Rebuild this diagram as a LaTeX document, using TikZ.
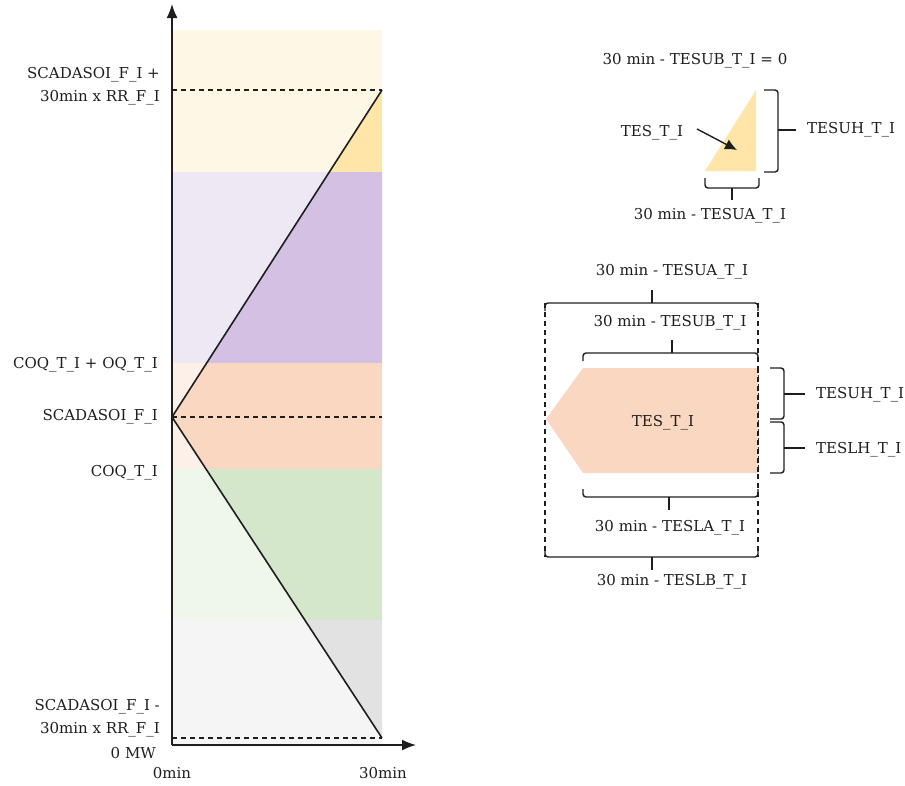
\documentclass[tikz,border=0pt]{standalone}
\usepackage{fontspec}
\setmainfont{DejaVu Serif}
\usetikzlibrary{arrows.meta}
\definecolor{ylL}{HTML}{FFF7E6}
\definecolor{ylD}{HTML}{FFE6A8}
\definecolor{puL}{HTML}{EEE8F5}
\definecolor{puD}{HTML}{D4C0E3}
\definecolor{orL}{HTML}{FCF0E8}
\definecolor{orD}{HTML}{FAD7C0}
\definecolor{grL}{HTML}{EFF6EA}
\definecolor{grD}{HTML}{D5E7CB}
\definecolor{gyL}{HTML}{F5F5F5}
\definecolor{gyD}{HTML}{E2E2E2}
\definecolor{ink}{HTML}{1E1E1E}
\begin{document}
\begin{tikzpicture}[x=1pt,y=-1pt,
  lbl/.style={font=\fontsize{15}{18}\selectfont, inner sep=0pt, text=ink},
  dsh/.style={draw=ink, line width=1.3pt, dash pattern=on 5pt off 4pt},
  axisline/.style={draw=ink, line width=1.5pt, -{Latex[length=14pt,width=11pt]}},
  brc/.style={draw=ink, line width=1.4pt, rounded corners=3pt},
  tick/.style={draw=ink, line width=1.4pt}]
\useasboundingbox (0,0) rectangle (905,785);

% bands
\fill[ylL] (172,30) rectangle (382,172);
\fill[puL] (172,172) rectangle (382,363);
\fill[orL] (172,363) rectangle (382,469);
\fill[grL] (172,469) rectangle (382,620);
\fill[gyL] (172,620) rectangle (382,747);

% darker parts
\fill[ylD] (382,90) -- (329.3,172) -- (382,172) -- cycle;
\fill[puD] (329.3,172) -- (382,172) -- (382,363) -- (206.7,363) -- cycle;
\fill[orD] (206.7,363) -- (382,363) -- (382,469) -- (206,469) -- (172,417) -- cycle;
\fill[grD] (206,469) -- (382,469) -- (382,620) -- (304.8,620) -- cycle;
\fill[gyD] (304.8,620) -- (382,620) -- (382,738) -- cycle;

\coordinate (O) at (172,417);
\coordinate (T) at (382,90);
\coordinate (B) at (382,738);
\coordinate (Tl) at (172,90);
\coordinate (Ol) at (382,417);
\coordinate (Bl) at (172,738);

\draw[dsh] (Tl) -- (T);
\draw[dsh] (O) -- (Ol);
\draw[dsh] (Bl) -- (B);
\draw[draw=ink, line width=1.6pt, line join=round] (T) -- (O) -- (B);

% axes
\coordinate (org) at (172,745);
\coordinate (ytip) at (172,4);
\coordinate (xtip) at (416,745);
\draw[axisline] (org) -- (ytip);
\draw[axisline] (org) -- (xtip);

% left labels
\node[lbl, anchor=east] (l1a) at (160,75) {SCADASOI\_F\_I +};
\node[lbl, anchor=east] (l1b) at (160,98) {30min x RR\_F\_I};
\node[lbl, anchor=east] (l2) at (158,365) {COQ\_T\_I + OQ\_T\_I};
\node[lbl, anchor=east] (l3) at (158,417) {SCADASOI\_F\_I};
\node[lbl, anchor=east] (l4) at (158,473) {COQ\_T\_I};
\node[lbl, anchor=east] (l5a) at (160,707) {SCADASOI\_F\_I -};
\node[lbl, anchor=east] (l5b) at (160,730) {30min x RR\_F\_I};
\node[lbl, anchor=east] (l6) at (156,753) {0 MW};
\node[lbl] (x0) at (172,773) {0min};
\node[lbl] (x30) at (383,773) {30min};

% top right triangle
\fill[ylD] (705,171) -- (756,171) -- (756,90) -- cycle;
\node[lbl] (tsub) at (695,61) {30 min - TESUB\_T\_I = 0};
\node[lbl] (tes1) at (652,133) {TES\_T\_I};
\coordinate (arS) at (697,129);
\coordinate (arE) at (737,150);
\draw[draw=ink, line width=1.4pt, -{Latex[length=12pt,width=11pt]}] (arS) -- (arE);
\draw[brc] (764,90) -- (778,90) -- (778,172) -- (764,172);
\coordinate (b1t) at (778,130);
\coordinate (b1e) at (796,130);
\draw[tick] (b1t) -- (b1e);
\node[lbl, anchor=west] (tesuh1) at (807,130) {TESUH\_T\_I};
\draw[brc] (705,178) -- (705,188) -- (759,188) -- (759,178);
\coordinate (b2t) at (732,188);
\coordinate (b2e) at (732,200);
\draw[tick] (b2t) -- (b2e);
\node[lbl] (tsua1) at (710,216) {30 min - TESUA\_T\_I};

% right pentagon block
\node[lbl] (tsua2) at (672,272) {30 min - TESUA\_T\_I};
\draw[dsh] (545,303) -- (545,557);
\draw[dsh] (758,303) -- (758,557);
\draw[brc] (545,311) -- (545,303) -- (758,303) -- (758,311);
\coordinate (b3t) at (652,303);
\coordinate (b3e) at (652,290);
\draw[tick] (b3t) -- (b3e);

\node[lbl] (tsub2) at (670,323) {30 min - TESUB\_T\_I};
\draw[brc] (583,361) -- (583,353) -- (758,353) -- (758,361);
\coordinate (b4t) at (672,353);
\coordinate (b4e) at (672,340);
\draw[tick] (b4t) -- (b4e);

\fill[orD] (583,368) -- (758,368) -- (758,473) -- (583,473) -- (546,419) -- cycle;
\draw[dsh] (758,368) -- (758,473);
\node[lbl] (tes2) at (663,423) {TES\_T\_I};

\draw[brc] (770,368) -- (784,368) -- (784,419) -- (770,419);
\coordinate (b5t) at (784,394);
\coordinate (b5e) at (805,394);
\draw[tick] (b5t) -- (b5e);
\node[lbl, anchor=west] (tesuh2) at (816,395) {TESUH\_T\_I};

\draw[brc] (770,422) -- (784,422) -- (784,473) -- (770,473);
\coordinate (b6t) at (784,448);
\coordinate (b6e) at (805,448);
\draw[tick] (b6t) -- (b6e);
\node[lbl, anchor=west] (teslh) at (816,450) {TESLH\_T\_I};

\draw[brc] (583,489) -- (583,497) -- (758,497) -- (758,489);
\coordinate (b7t) at (669,497);
\coordinate (b7e) at (669,510);
\draw[tick] (b7t) -- (b7e);
\node[lbl] (tsla) at (670,528) {30 min - TESLA\_T\_I};

\draw[brc] (545,549) -- (545,557) -- (758,557) -- (758,549);
\coordinate (b8t) at (652,557);
\coordinate (b8e) at (652,570);
\draw[tick] (b8t) -- (b8e);
\node[lbl] (tslb) at (672,582) {30 min - TESLB\_T\_I};
\end{tikzpicture}
\end{document}
